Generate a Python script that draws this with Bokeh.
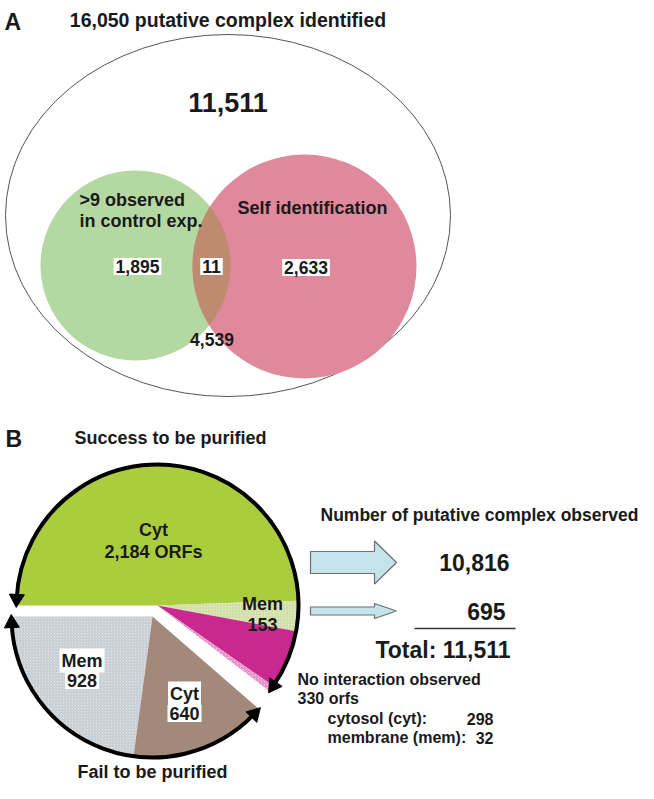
import numpy as np
from bokeh.plotting import figure
from bokeh.models import Range1d
from bokeh.core.properties import value
from bokeh.embed import file_html
from bokeh.resources import INLINE

# ---------------- data ----------------
panel_a_title = "16,050 putative complex identified"
venn_outside = 11511
venn_set_labels = [">9 observed", "in control exp.", "Self identification"]
venn_control_only = 1895
venn_overlap = 11
venn_self_only = 2633
venn_bottom_value = 4539

success_cats = ["Cyt", "Mem"]
success_vals = [2184, 153]
nointer_cats = ["cytosol (cyt):", "membrane (mem):"]
nointer_vals = [298, 32]
fail_cats = ["Mem", "Cyt"]
fail_vals = [928, 640]

observed_vals = [10816, 695]
observed_total = 11511

FONT = value("Liberation Sans")

W, H = 638, 783
p = figure(width=W, height=H, x_range=Range1d(8, 8 + W), y_range=Range1d(-(8 + H), -8),
           output_backend="svg", toolbar_location=None,
           x_axis_location=None, y_axis_location=None, min_border=0)
p.grid.visible = False
p.outline_line_color = None
p.background_fill_color = "white"


def Y(py):
    return -np.asarray(py, dtype=float)


def rad(d):
    return list(np.deg2rad(np.asarray(d, dtype=float)))


def txt(xs, ys, texts, size, align="left", baseline="middle", box=False, color="#1a1a1a"):
    kw = {}
    if box:
        kw = dict(background_fill_color="white", padding=2)
    p.text(x=list(xs), y=list(Y(ys)), text=list(texts), text_font=FONT,
           text_font_style="bold", text_font_size=value(f"{size}px"),
           text_align=align, text_baseline=baseline, text_color=color, **kw)


# ---------------- panel A: Venn ----------------
outer_c, outer_w, outer_h = (235.5, 223), 445, 362
g_c, g_r = (143, 273), 95
r_c, r_r = (312, 274), 112

p.ellipse(x=[outer_c[0]], y=list(Y([outer_c[1]])), width=outer_w, height=outer_h,
          fill_color=None, line_color="#555555", line_width=1)
p.circle(x=[g_c[0]], y=list(Y([g_c[1]])), radius=g_r, fill_color="#b4d8a2", line_color=None)
p.circle(x=[r_c[0]], y=list(Y([r_c[1]])), radius=r_r, fill_color="#e0899c", line_color=None)

# intersection lens, computed from the two circles
t = np.linspace(0, 2 * np.pi, 720)
gx, gy = g_c[0] + g_r * np.cos(t), g_c[1] + g_r * np.sin(t)
rx, ry = r_c[0] + r_r * np.cos(t), r_c[1] + r_r * np.sin(t)
in_r = (gx - r_c[0]) ** 2 + (gy - r_c[1]) ** 2 <= r_r ** 2
in_g = (rx - g_c[0]) ** 2 + (ry - g_c[1]) ** 2 <= g_r ** 2
lx = np.concatenate([gx[in_r], rx[in_g]])
ly = np.concatenate([gy[in_r], ry[in_g]])
order = np.argsort(np.arctan2(ly - ly.mean(), lx - lx.mean()))
p.patch(x=list(lx[order]), y=list(Y(ly[order])), fill_color="#bf8b70", line_color=None)

txt([12], [29], ["A"], 23)
txt([235.5], [27], [panel_a_title], 19.5, align="center")
txt([235.5], [110], [f"{venn_outside:,}"], 27, align="center")
txt([87, 87, 245], [207, 228, 215], venn_set_labels, 18)
txt([145, 219, 313.5], [274, 274, 275],
    [f"{venn_control_only:,}", f"{venn_overlap:,}", f"{venn_self_only:,}"], 17.5,
    align="center", box=True)
txt([219.5], [347], [f"{venn_bottom_value:,}"], 17.5, align="center")

# ---------------- panel B: exploded pie ----------------
# angular scales: each group's cumulative counts are mapped onto its arc
succ_c, fail_c, R = (165, 613), (160, 624), 141
succ_arc = (180.0, -37.4)    # clockwise from the left horizontal
fail_arc = (180.0, 319.0)    # anticlockwise from the left horizontal

s_vals = success_vals + nointer_vals
s_cum = np.concatenate([[0], np.cumsum(s_vals)]) / sum(s_vals)
s_ang = succ_arc[0] + s_cum * (succ_arc[1] - succ_arc[0])
succ_colors = ["#aacd3e", "#e4edbf", "#c9288f", "#f4c9e6"]
succ_hatch = [" ", "/", " ", "/"]
succ_hatch_col = ["#aacd3e", "#b9c88c", "#c9288f", "#d4389c"]
p.wedge(x=[succ_c[0]] * 4, y=list(Y([succ_c[1]] * 4)), radius=R,
        start_angle=rad(s_ang[1:]), end_angle=rad(s_ang[:-1]), direction="anticlock",
        fill_color=succ_colors, line_color=None,
        hatch_pattern=succ_hatch, hatch_color=succ_hatch_col, hatch_scale=3, hatch_weight=0.6)

f_cum = np.concatenate([[0], np.cumsum(fail_vals)]) / sum(fail_vals)
f_ang = fail_arc[0] + f_cum * (fail_arc[1] - fail_arc[0])
p.wedge(x=[fail_c[0]] * 2, y=list(Y([fail_c[1]] * 2)), radius=R,
        start_angle=rad(f_ang[:-1]), end_angle=rad(f_ang[1:]), direction="anticlock",
        fill_color=["#dce2e7", "#a3897a"], line_color=None,
        hatch_pattern=["/", " "], hatch_color=["#a9b3bb", "#a3897a"], hatch_scale=3, hatch_weight=0.6)

# double-headed arrows along the rim of each group
HS = 15
dlt = np.rad2deg(HS * 0.45 / R)
p.arc(x=[succ_c[0], fail_c[0]], y=list(Y([succ_c[1], fail_c[1]])), radius=R,
      start_angle=rad([succ_arc[1] + dlt, fail_arc[0] + dlt]),
      end_angle=rad([succ_arc[0] - dlt, fail_arc[1] - dlt]), direction="anticlock",
      line_color="black", line_width=4)


def head(c, ang, rot):
    a = np.deg2rad(ang)
    return c[0] + R * np.cos(a), -c[1] + R * np.sin(a), np.deg2rad(rot)


heads = [head(succ_c, succ_arc[0] - dlt, succ_arc[0] - dlt),
         head(succ_c, succ_arc[1] + dlt, succ_arc[1] + dlt - 180),
         head(fail_c, fail_arc[0] + dlt, fail_arc[0] + dlt - 180),
         head(fail_c, fail_arc[1] - dlt, fail_arc[1] - dlt)]
p.scatter(x=[h[0] for h in heads], y=[h[1] for h in heads], angle=[h[2] for h in heads],
          marker="triangle", size=HS, fill_color="black", line_color="black")

txt([13], [446], ["B"], 23)
txt([82], [445], ["Success to be purified"], 18)
txt([85], [779], ["Fail to be purified"], 18)
txt([161, 161], [537, 559], [success_cats[0], f"{success_vals[0]:,} ORFs"], 18, align="center")
txt([270, 270], [611, 632], [success_cats[1], f"{success_vals[1]:,}"], 18, align="center")
txt([89.5, 89.5], [668, 688], [fail_cats[0], f"{fail_vals[0]:,}"], 18, align="center", box=True)
txt([192, 192], [701, 721], [fail_cats[1], f"{fail_vals[1]:,}"], 18, align="center", box=True)

# ---------------- right side ----------------
def arrow(x0, x1, yc, body_h, head_h, head_len):
    xs = [x0, x1 - head_len, x1 - head_len, x1, x1 - head_len, x1 - head_len, x0]
    ys = [yc - body_h / 2, yc - body_h / 2, yc - head_h / 2, yc, yc + head_h / 2,
          yc + body_h / 2, yc + body_h / 2]
    return xs, list(Y(ys))


a1 = arrow(318, 404, 570, 22, 43, 22)
a2 = arrow(318, 404, 618.5, 8, 15, 22)
p.patches(xs=[a1[0], a2[0]], ys=[a1[1], a2[1]], fill_color="#c5e3ea",
          line_color="#6e6e6e", line_width=1.2)

txt([328], [522], ["Number of putative complex observed"], 17.5)
txt([517, 513], [570, 619], [f"{v:,}" for v in observed_vals], 23, align="right")
p.line(x=[422, 523], y=list(Y([636, 636])), line_color="#333333", line_width=1.5)
txt([518], [657], [f"Total: {observed_total:,}"], 23, align="right")
txt([305, 305], [687, 706],
    ["No interaction observed", f"{sum(nointer_vals)} orfs"], 16)
txt([335, 335], [726, 745], nointer_cats, 16)
txt([501, 501], [726, 745], [str(v) for v in nointer_vals], 16, align="right")

open("out.html", "w").write(file_html(p, INLINE))
